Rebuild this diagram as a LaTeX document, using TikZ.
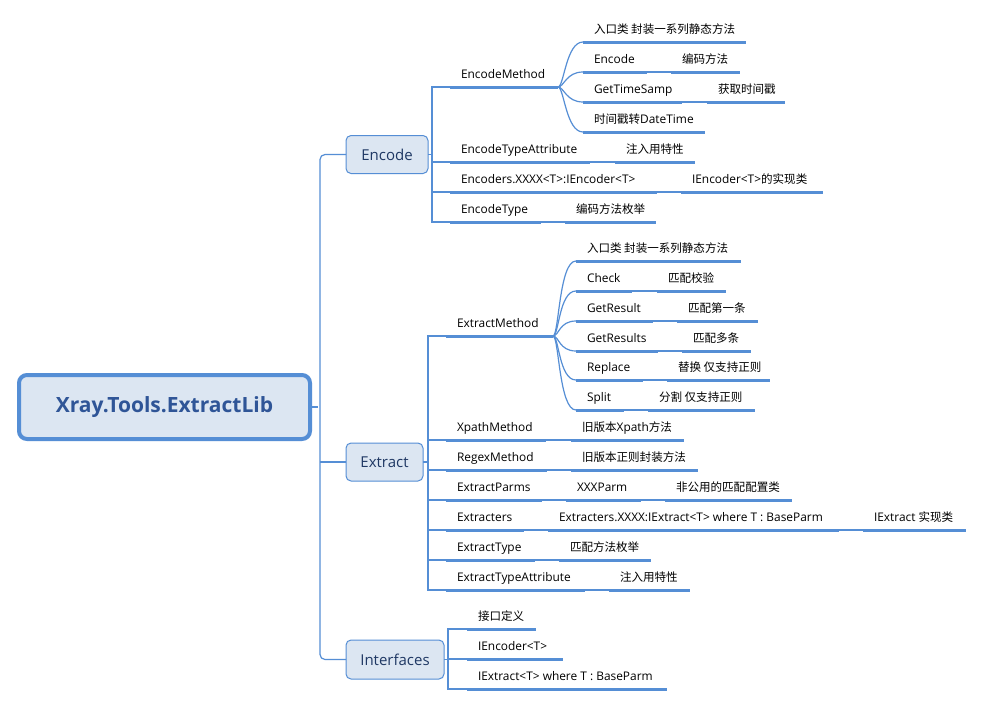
\documentclass[tikz,border=0pt]{standalone}
\usepackage{fontspec}
\setmainfont{Open Sans}
\newfontfamily\cjk{Noto Sans CJK SC}[Scale=0.97]
\newcommand\zh[1]{{\cjk #1}}
\definecolor{lb}{RGB}{85,142,213}
\definecolor{fillb}{RGB}{220,230,242}
\definecolor{navy}{RGB}{31,56,100}
\definecolor{rootc}{RGB}{47,85,151}
\tikzset{
  mitem/.style={anchor=south west, inner sep=0pt, outer sep=0pt, text height=9pt, text depth=8.5pt,
    font=\fontsize{11.9}{14}\selectfont},
  uline/.style={draw=lb, line width=3pt},
  conn/.style={draw=lb, line width=1.2pt},
  catbox/.style={draw=lb, line width=1pt, fill=fillb, rounded corners=5pt, outer sep=0pt,
    inner sep=0pt, text=navy, font=\fontsize{15}{18}\selectfont},
  rootbox/.style={draw=lb, line width=4pt, fill=fillb, rounded corners=8pt, outer sep=0pt,
    inner sep=0pt, text=rootc, font=\fontsize{21}{24}\selectfont\bfseries,
    minimum width=291pt, minimum height=64pt}
}
\newcommand\mnode[5]{%
  \pgfmathsetmacro\mw{#3-#2}%
  \node[mitem] (#1) at (#2,#4) {\makebox[\mw pt][l]{\hspace*{11pt}#5}};
  \draw[uline] (#1.south west) -- (#1.south east);
}
\newcommand\curvel[2]{\draw[conn] (#1.south east) .. controls +(6,0) and +(-17,0) .. (#2.south west);}
\newcommand\thinl[2]{\draw[conn] (#1.south east) -- (#2.south west);}
\begin{document}
\begin{tikzpicture}[x=1pt,y=-1pt]
\useasboundingbox (0,0) rectangle (984,707);
\fill[white] (0,0) rectangle (984,707);

% root and categories
\node[rootbox] (root) at (164.5,407) {Xray.Tools.ExtractLib};
\node[catbox, minimum width=82pt, minimum height=38pt] (enc) at (387,154.5) {Encode};
\node[catbox, minimum width=77pt, minimum height=38pt] (ext) at (384.5,462) {Extract};
\node[catbox, minimum width=98pt, minimum height=39pt] (intf) at (395,659.5) {Interfaces};

\draw[conn, rounded corners=5pt] (enc.west) -- ++(-26,0) |- (intf.west);
\draw[conn] (root.east) -- ++(8,0);
\draw[conn] (ext.west) -- ++(-26,0);

% Encode
\mnode{em}{450}{558}{87}{EncodeMethod}
\mnode{em1}{583}{746}{42}{\zh{入口类 封装一系列静态方法}}
\mnode{em2}{583}{647}{72}{Encode}
\mnode{em2a}{671}{740}{72}{\zh{编码方法}}
\mnode{em3}{583}{682}{102}{GetTimeSamp}
\mnode{em3a}{707}{785}{102}{\zh{获取时间戳}}
\mnode{em4}{583}{705}{132}{\zh{时间戳转}DateTime}
\mnode{eta}{450}{590}{162}{EncodeTypeAttribute}
\mnode{etaa}{615}{695}{162}{\zh{注入用特性}}
\mnode{ex}{450}{657}{192}{Encoders.XXXX<T>:IEncoder<T>}
\mnode{exa}{681}{823}{192}{IEncoder<T>\zh{的实现类}}
\mnode{et}{450}{541}{222}{EncodeType}
\mnode{eta2}{565}{656}{222}{\zh{编码方法枚举}}

\draw[conn] (enc.east) -- ++(4,0);
\draw[conn] (em.south west) -- ++(-18,0) |- (et.south west);
\draw[conn] (eta.south west) -- ++(-18,0);
\draw[conn] (ex.south west) -- ++(-18,0);
\curvel{em}{em1}
\curvel{em}{em2}
\curvel{em}{em3}
\curvel{em}{em4}
\thinl{em2}{em2a}
\thinl{em3}{em3a}
\thinl{eta}{etaa}
\thinl{ex}{exa}
\thinl{et}{eta2}

% Extract
\mnode{xm}{446}{553}{336}{ExtractMethod}
\mnode{xm1}{576}{741}{261}{\zh{入口类 封装一系列静态方法}}
\mnode{xm2}{576}{632}{291}{Check}
\mnode{xm2a}{657}{726}{291}{\zh{匹配校验}}
\mnode{xm3}{576}{653}{321}{GetResult}
\mnode{xm3a}{677}{758}{321}{\zh{匹配第一条}}
\mnode{xm4}{576}{658}{351}{GetResults}
\mnode{xm4a}{682}{751}{351}{\zh{匹配多条}}
\mnode{xm5}{576}{643}{380}{Replace}
\mnode{xm5a}{667}{770}{380}{\zh{替换 仅支持正则}}
\mnode{xm6}{576}{624}{410}{Split}
\mnode{xm6a}{648}{755}{410}{\zh{分割 仅支持正则}}
\mnode{xp}{446}{546}{440}{XpathMethod}
\mnode{xpa}{571}{684}{440}{\zh{旧版本}Xpath\zh{方法}}
\mnode{xr}{446}{547}{470}{RegexMethod}
\mnode{xra}{571}{698}{470}{\zh{旧版本正则封装方法}}
\mnode{xpm}{446}{542}{500}{ExtractParms}
\mnode{xpm1}{566}{641}{500}{XXXParm}
\mnode{xpm2}{665}{792}{500}{\zh{非公用的匹配配置类}}
\mnode{xs}{446}{524}{530}{Extracters}
\mnode{xs1}{548}{839}{530}{Extracters.XXXX:IExtract<T> where T : BaseParm}
\mnode{xs2}{863}{966}{530}{IExtract \zh{实现类}}
\mnode{xt}{446}{535}{560}{ExtractType}
\mnode{xta}{559}{651}{560}{\zh{匹配方法枚举}}
\mnode{xta2}{446}{585}{590}{ExtractTypeAttribute}
\mnode{xtaa}{609}{690}{590}{\zh{注入用特性}}

\draw[conn] (ext.east) -- ++(5,0);
\draw[conn] (xm.south west) -- ++(-18,0) |- (xta2.south west);
\foreach \n in {xp,xr,xpm,xs,xt}{\draw[conn] (\n.south west) -- ++(-18,0);}
\foreach \n in {xm1,xm2,xm3,xm4,xm5,xm6}{\curvel{xm}{\n}}
\thinl{xm2}{xm2a}
\thinl{xm3}{xm3a}
\thinl{xm4}{xm4a}
\thinl{xm5}{xm5a}
\thinl{xm6}{xm6a}
\thinl{xp}{xpa}
\thinl{xr}{xra}
\thinl{xpm}{xpm1}
\thinl{xpm1}{xpm2}
\thinl{xs}{xs1}
\thinl{xs1}{xs2}
\thinl{xt}{xta}
\thinl{xta2}{xtaa}

% Interfaces
\mnode{i1}{467}{536}{629}{\zh{接口定义}}
\mnode{i2}{467}{563}{659}{IEncoder<T>}
\mnode{i3}{467}{667}{689}{IExtract<T> where T : BaseParm}
\draw[conn] (intf.east) -- ++(4,0);
\draw[conn] (i1.south west) -- ++(-19,0) |- (i3.south west);
\draw[conn] (i2.south west) -- ++(-19,0);
\end{tikzpicture}
\end{document}
